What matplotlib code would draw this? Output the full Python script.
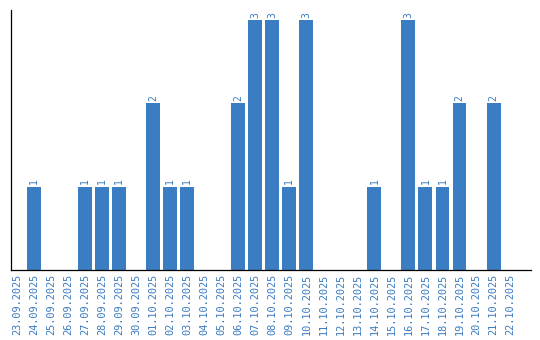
import matplotlib
matplotlib.use("Agg")
import matplotlib.pyplot as plt

dates = ["23.09.2025", "24.09.2025", "25.09.2025", "26.09.2025", "27.09.2025",
         "28.09.2025", "29.09.2025", "30.09.2025", "01.10.2025", "02.10.2025",
         "03.10.2025", "04.10.2025", "05.10.2025", "06.10.2025", "07.10.2025",
         "08.10.2025", "09.10.2025", "10.10.2025", "11.10.2025", "12.10.2025",
         "13.10.2025", "14.10.2025", "15.10.2025", "16.10.2025", "17.10.2025",
         "18.10.2025", "19.10.2025", "20.10.2025", "21.10.2025", "22.10.2025"]
counts = [0, 1, 0, 0, 1, 1, 1, 0, 2, 1, 1, 0, 0, 2, 3, 3, 1, 3, 0, 0,
          0, 1, 0, 3, 1, 1, 2, 0, 2, 0]

bar_color = "#3b7dc3"
text_color = "#3a7abf"

fig = plt.figure(figsize=(5.4, 3.4), dpi=100)
ax = fig.add_axes([10.5 / 540, 70 / 340, (531 - 10.5) / 540, 260 / 340])

x = list(range(len(dates)))
bars = ax.bar(x, counts, width=0.82, color=bar_color)
for xi, v in zip(x, counts):
    if v > 0:
        ax.text(xi, v + 0.03, str(v), rotation=90, ha="center", va="bottom",
                color=text_color, fontsize=7, family="DejaVu Sans Mono")

ax.set_xlim(-0.38, 30.2)
ax.set_ylim(0, 3.12)
ax.set_xticks(x)
ax.set_xticklabels(dates, rotation=90, color=text_color, fontsize=7.4,
                   family="DejaVu Sans Mono")
ax.tick_params(axis="x", length=0, pad=3)
ax.set_yticks([])
for s in ["top", "right"]:
    ax.spines[s].set_visible(False)
for s in ["left", "bottom"]:
    ax.spines[s].set_color("black")
    ax.spines[s].set_linewidth(0.9)

fig.savefig("out.png", dpi=100)
